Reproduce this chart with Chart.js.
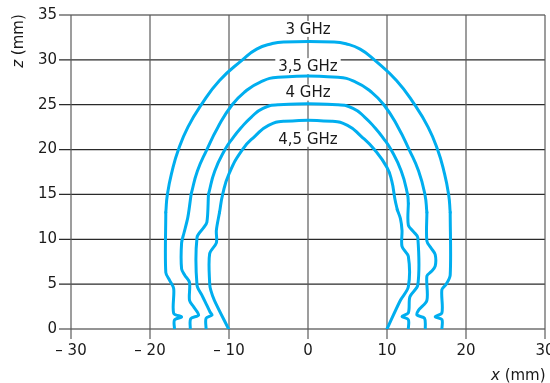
<!DOCTYPE html>
<html><head><meta charset="utf-8">
<script src="https://cdn.jsdelivr.net/npm/chart.js@4/dist/chart.umd.min.js"></script>
<style>html,body{margin:0;padding:0;background:#fff;overflow:hidden}</style>
</head><body>
<canvas id="c" width="550" height="383"></canvas>
<script>
// ---- data (x in mm, z in mm) ----
const f3x  = [-16.9,-16.9,-16.0,-17.0,-17.0,-17.5,-18.0,-18.0,-17.8,-17.2,-16.4,-15.2,-13.5,-11.2,-8.3,-6.5,-4.6,-3.1, 3.3,4.8,6.6,8.4,11.2,13.5,15.2,16.4,17.2,17.8,18.0,18.0,17.5,16.95,16.95,16.1,16.95,16.95];
const f3z  = [0,1.0,1.35,1.75,4.5,5.4,6.3,13.0,15,17.6,20,22.5,25,27.7,30,31.2,31.8,32.0, 32.0,31.8,31.2,30,27.7,25,22.5,20,17.6,15,13.0,6.0,5.0,4.4,1.8,1.37,1.05,0];

const f35x = [-14.9,-14.85,-13.85,-14.5,-15.0,-15.0,-15.6,-16.0,-16.0,-15.7,-15.2,-14.8,-14.0,-12.8,-11.4,-9.6,-7.9,-6.1,-3.8, 3.8,6.1,7.9,9.6,11.4,12.8,14.0,14.8,15.05,15.05,15.6,16.1,16.1,15.6,15.05,15.05,14.0,13.8,14.75,14.85];
const f35z = [0,1.15,1.55,2.5,3.2,5.2,6.0,6.7,9.6,10.7,12.5,15,17.6,20,22.5,25,26.5,27.5,28.05, 28.05,27.5,26.5,25,22.5,20,17.6,15,13.0,9.8,9.0,8.3,7.0,6.4,5.9,3.2,2.1,1.56,1.2,0];

const f4x  = [-12.9,-12.9,-12.15,-12.4,-13.0,-13.45,-14.05,-14.05,-13.3,-12.8,-12.6,-11.8,-10.5,-9.5,-8.5,-7.2,-5.7,-3.7, 3.7,5.7,7.2,8.5,9.5,10.5,11.8,12.6,12.7,12.7,13.4,13.9,13.9,12.9,12.7,11.9,12.7,12.7];
const f4z  = [0,1.2,1.56,1.9,3.0,3.8,4.9,10.2,11.2,11.9,15,17.6,20,21.3,22.4,23.6,24.6,25.0, 25.0,24.6,23.6,22.4,21.3,20,17.6,15,14.0,11.6,10.8,10.2,4.9,3.6,1.8,1.4,1.05,0];

const f45x = [-10.05,-11.85,-12.3,-12.45,-12.45,-11.6,-11.6,-11.2,-10.8,-10.0,-8.3,-6.7,-5.0,-3.0, 3.0,5.0,6.7,8.4,10.0,10.6,11.0,11.3,11.7,11.9,11.9,12.7,12.7,11.7,10.0];
const f45z = [0,3.2,4.3,5.1,8.4,9.6,11.0,13.0,15,17.3,20,21.5,22.7,23.15, 23.15,22.7,21.5,20,18.0,16.5,14.5,13.3,12.3,11.0,9.2,8.1,4.7,3.2,0];

const curveLabels = ['3 GHz','3,5 GHz','4 GHz','4,5 GHz'];
const labelZ      = [33.45, 29.3, 26.35, 21.2];

const xTicks      = [-30,-20,-10,0,10,20,30];
const xTickLabels = ['\u2013 30','\u2013 20','\u2013 10','0','10','20','30'];
const yTicks      = [0,5,10,15,20,25,30,35];
const yTickLabels = ['0','5','10','15','20','25','30','35'];

// ---- chart ----
const LINE = '#00AEEF';
const FONT = '15px "DejaVu Sans", sans-serif';
const FONT_I = 'italic 15px "DejaVu Sans", sans-serif';
const TXT = '#1a1a1a';
const ARC_FROM = 13; // arc part (smooth) = points at or above this height

function pts(xs, zs){ return xs.map((x,i)=>({x:x, y:zs[i]})); }
const series = [[f3x,f3z],[f35x,f35z],[f4x,f4z],[f45x,f45z]];

const datasets = [];
series.forEach((s,k)=>{
  const p = pts(s[0], s[1]);
  let a = p.findIndex(q=>q.y>=ARC_FROM);
  let b = p.length-1; while (p[b].y < ARC_FROM) b--;
  const common = {showLine:true, borderColor:LINE, borderWidth:3, pointRadius:0, fill:false,
                  borderJoinStyle:'round', borderCapStyle:'round', label:curveLabels[k]};
  datasets.push(Object.assign({}, common, {data:p.slice(0,a+1), tension:0.3}));
  datasets.push(Object.assign({}, common, {data:p.slice(a,b+1), tension:0.5}));
  datasets.push(Object.assign({}, common, {data:p.slice(b), tension:0.3}));
});

const gridPlugin = {
  id:'grid',
  beforeDatasetsDraw(chart){
    const {ctx, chartArea:a, scales:{x:sx, y:sy}} = chart;
    ctx.save();
    ctx.strokeStyle = '#2a2a2a'; ctx.lineWidth = 1.2;
    yTicks.forEach(v=>{
      const py = sy.getPixelForValue(v);
      ctx.beginPath(); ctx.moveTo(a.left-12, py); ctx.lineTo(a.right, py); ctx.stroke();
    });
    ctx.strokeStyle = '#5c5c5c'; ctx.lineWidth = 1.2;
    xTicks.forEach(v=>{
      const px = sx.getPixelForValue(v);
      ctx.beginPath(); ctx.moveTo(px, a.top); ctx.lineTo(px, a.bottom+10); ctx.stroke();
    });
    ctx.fillStyle = TXT; ctx.font = FONT;
    ctx.textAlign = 'right'; ctx.textBaseline = 'middle';
    yTicks.forEach((v,i)=>{ ctx.fillText(yTickLabels[i], a.left-14, sy.getPixelForValue(v)); });
    ctx.textAlign = 'center'; ctx.textBaseline = 'middle';
    xTicks.forEach((v,i)=>{ ctx.fillText(xTickLabels[i], sx.getPixelForValue(v), a.bottom+22); });
    ctx.textAlign = 'left'; ctx.textBaseline = 'middle';
    ctx.font = FONT_I; const wx = ctx.measureText('x').width;
    ctx.fillText('x', 491, 376);
    ctx.font = FONT; ctx.fillText(' (mm)', 491+wx, 376);
    ctx.save();
    ctx.translate(19, 41); ctx.rotate(-Math.PI/2);
    ctx.font = FONT_I; const wz = ctx.measureText('z').width;
    ctx.font = FONT; const wm = ctx.measureText(' (mm)').width;
    const x0 = -(wz+wm)/2;
    ctx.font = FONT_I; ctx.fillText('z', x0, 0);
    ctx.font = FONT; ctx.fillText(' (mm)', x0+wz, 0);
    ctx.restore();
    ctx.font = FONT; ctx.textAlign = 'center'; ctx.textBaseline = 'middle';
    curveLabels.forEach((t,i)=>{
      const px = sx.getPixelForValue(0), py = sy.getPixelForValue(labelZ[i]);
      const w = ctx.measureText(t).width;
      ctx.fillStyle = '#fff'; ctx.fillRect(px-w/2-3, py-8, w+6, 16);
      ctx.fillStyle = TXT; ctx.fillText(t, px, py+1);
    });
    ctx.restore();
  }
};

new Chart(document.getElementById('c'), {
  type:'scatter',
  data:{ datasets: datasets },
  options:{
    responsive:false, animation:false, devicePixelRatio:1,
    layout:{padding:{left:71, right:5, top:15, bottom:54}},
    scales:{
      x:{type:'linear', min:-30, max:30, display:false},
      y:{type:'linear', min:0, max:35, display:false}
    },
    plugins:{legend:{display:false}, tooltip:{enabled:false}},
    events:[]
  },
  plugins:[gridPlugin]
});
</script>
</body></html>
